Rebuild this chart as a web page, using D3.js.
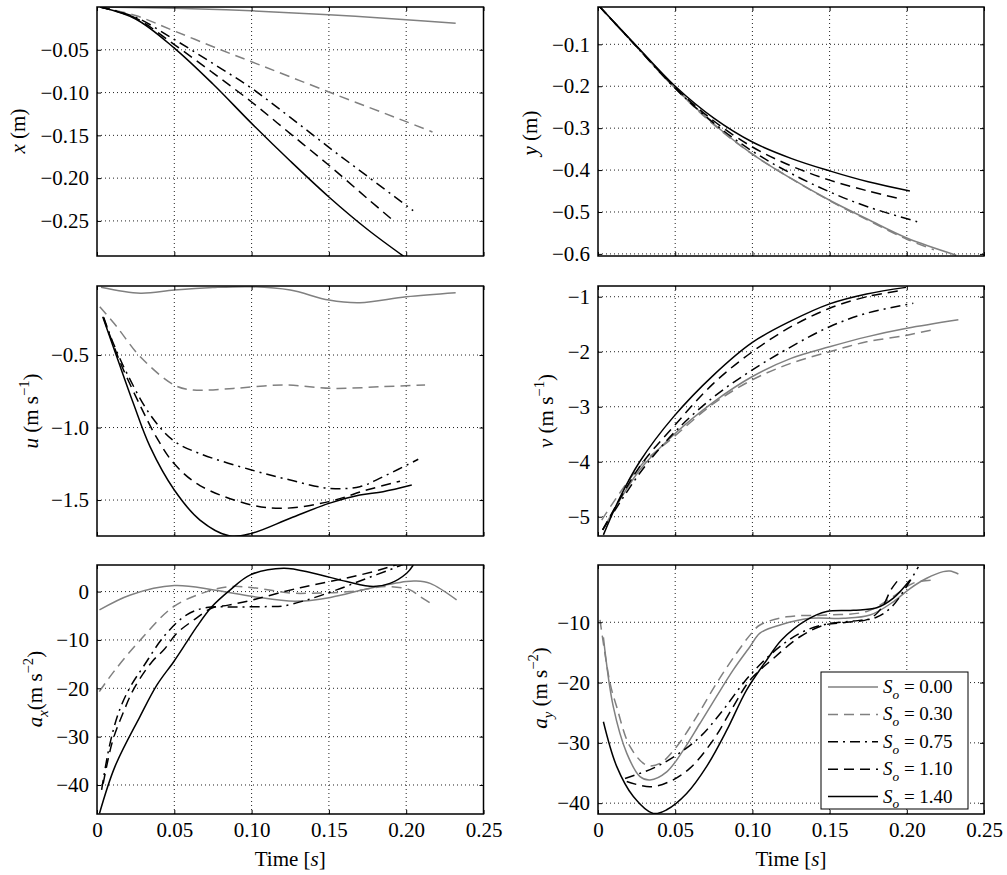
<!DOCTYPE html>
<meta charset="utf-8">
<body style="margin:0;background:#fff">
<svg width="1007" height="875"></svg>
<script src="https://d3js.org/d3.v7.min.js"></script>
<script>

var timeTicks = [0, 0.05, 0.10, 0.15, 0.20, 0.25];
var legendLabels = ['0.00', '0.30', '0.75', '1.10', '1.40'];

// one array per S_o (legend order), points are [time, value]
var xData = [
	[[0.002,0],[0.05,-0.0015],[0.1,-0.0045],[0.15,-0.009],[0.2,-0.015],[0.232,-0.019]],
	[[0.002,0],[0.025,-0.010],[0.05,-0.028],[0.08,-0.05],[0.1,-0.064],[0.151,-0.1],[0.2,-0.134],[0.217,-0.146]],
	[[0.002,0],[0.025,-0.012],[0.05,-0.038],[0.075,-0.066],[0.1,-0.095],[0.125,-0.129],[0.15,-0.164],[0.175,-0.198],[0.2045,-0.238]],
	[[0.002,0],[0.025,-0.013],[0.05,-0.044],[0.075,-0.077],[0.1,-0.111],[0.125,-0.148],[0.15,-0.185],[0.175,-0.224],[0.1906,-0.248]],
	[[0.002,0],[0.025,-0.014],[0.05,-0.048],[0.075,-0.09],[0.1,-0.136],[0.125,-0.18],[0.15,-0.222],[0.175,-0.26],[0.202,-0.296]]
];
var yData = [
	[[0.001,-0.01],[0.025,-0.106],[0.05,-0.205],[0.075,-0.29],[0.1,-0.362],[0.125,-0.42],[0.15,-0.472],[0.175,-0.518],[0.2,-0.562],[0.232,-0.603]],
	[[0.001,-0.01],[0.025,-0.106],[0.05,-0.205],[0.075,-0.292],[0.1,-0.362],[0.125,-0.42],[0.15,-0.473],[0.175,-0.52],[0.2,-0.565],[0.2175,-0.59]],
	[[0.001,-0.01],[0.025,-0.106],[0.05,-0.205],[0.075,-0.288],[0.1,-0.355],[0.125,-0.408],[0.15,-0.452],[0.175,-0.488],[0.2075,-0.524]],
	[[0.001,-0.01],[0.025,-0.105],[0.05,-0.203],[0.075,-0.283],[0.1,-0.345],[0.125,-0.39],[0.15,-0.424],[0.175,-0.45],[0.195,-0.468]],
	[[0.001,-0.01],[0.025,-0.104],[0.05,-0.2],[0.075,-0.276],[0.1,-0.333],[0.125,-0.372],[0.15,-0.402],[0.175,-0.428],[0.202,-0.45]]
];
var uData = [
	[[0.0026,-0.033],[0.028,-0.074],[0.05,-0.052],[0.075,-0.035],[0.1,-0.029],[0.125,-0.052],[0.15,-0.121],[0.17,-0.139],[0.2,-0.098],[0.232,-0.07]],
	[[0.0018,-0.167],[0.0128,-0.305],[0.028,-0.512],[0.05,-0.707],[0.0623,-0.741],[0.088,-0.73],[0.121,-0.707],[0.153,-0.73],[0.185,-0.718],[0.2122,-0.707]],
	[[0.0043,-0.24],[0.0106,-0.42],[0.02,-0.64],[0.0343,-0.91],[0.0494,-1.09],[0.0666,-1.18],[0.1,-1.293],[0.125,-1.362],[0.15,-1.419],[0.17,-1.408],[0.185,-1.339],[0.2078,-1.219]],
	[[0.0043,-0.247],[0.015,-0.55],[0.028,-0.85],[0.0386,-1.07],[0.05,-1.25],[0.0666,-1.40],[0.1,-1.534],[0.1206,-1.557],[0.15,-1.511],[0.1744,-1.431],[0.196,-1.37]],
	[[0.0037,-0.236],[0.0128,-0.512],[0.0235,-0.833],[0.0343,-1.132],[0.05,-1.431],[0.0666,-1.638],[0.086,-1.748],[0.1,-1.73],[0.125,-1.626],[0.15,-1.523],[0.17,-1.466],[0.185,-1.443],[0.2036,-1.397]]
];
var vData = [
	[[0.003,-5.24],[0.027,-4.15],[0.049,-3.51],[0.075,-2.91],[0.1,-2.45],[0.125,-2.12],[0.15,-1.91],[0.174,-1.73],[0.2,-1.575],[0.2334,-1.42]],
	[[0.0024,-5.06],[0.027,-4.09],[0.049,-3.55],[0.075,-2.94],[0.1,-2.51],[0.125,-2.21],[0.15,-2.0],[0.174,-1.82],[0.2,-1.70],[0.2183,-1.59]],
	[[0.003,-5.24],[0.027,-4.21],[0.049,-3.48],[0.075,-2.82],[0.1,-2.33],[0.125,-1.91],[0.15,-1.545],[0.174,-1.30],[0.2042,-1.12]],
	[[0.003,-5.24],[0.027,-4.09],[0.049,-3.36],[0.075,-2.57],[0.1,-2.0],[0.125,-1.545],[0.15,-1.21],[0.174,-1.0],[0.1956,-0.89]],
	[[0.0035,-5.33],[0.0142,-4.65],[0.027,-4.0],[0.049,-3.18],[0.075,-2.42],[0.1,-1.83],[0.125,-1.44],[0.15,-1.13],[0.174,-0.95],[0.1995,-0.83]]
];
var axData = [
	[[0.0016,-3.8],[0.0216,-0.7],[0.05,1.24],[0.0755,0.35],[0.101,-1.03],[0.128,-2.0],[0.151,-1.2],[0.175,0.6],[0.2,2.1],[0.206,2.2],[0.2155,1.7],[0.2326,-1.72]],
	[[0.0015,-20.7],[0.011,-16.5],[0.028,-10],[0.0496,-3.1],[0.0711,0],[0.0862,1.04],[0.101,0.8],[0.125,-0.3],[0.138,-0.35],[0.1636,0],[0.187,1.04],[0.2025,0.35],[0.209,-1.03],[0.2175,-2.75]],
	[[0.003,-41],[0.008,-32],[0.014,-25],[0.021,-20],[0.03,-15.5],[0.044,-9.0],[0.058,-4.8],[0.071,-3.3],[0.09,-3.2],[0.11,-3.1],[0.12,-3.0],[0.135,-1.8],[0.155,0.35],[0.175,2.8],[0.194,5.1],[0.2045,6.5]],
	[[0.004,-39.7],[0.01,-31],[0.017,-25],[0.024,-20],[0.0356,-14.5],[0.0431,-12.1],[0.0517,-8.6],[0.0625,-5.9],[0.0744,-3.4],[0.085,-2.8],[0.101,-1.7],[0.1227,0.14],[0.14,1.4],[0.1615,2.8],[0.183,4.5],[0.196,5.8]],
	[[0.0016,-45.9],[0.0116,-36.2],[0.0277,-25.9],[0.0388,-19.3],[0.0496,-14.5],[0.0582,-10.35],[0.0647,-7.2],[0.0744,-3.1],[0.0862,0.35],[0.0992,3.46],[0.1207,4.84],[0.14,3.8],[0.1615,2.07],[0.1787,1.04],[0.1895,1.7],[0.2003,3.8],[0.2046,5.5]]
];
var ayData = [
	[[0.0035,-12.5],[0.0099,-24.0],[0.0186,-31.7],[0.0272,-35.6],[0.0337,-36.15],[0.0445,-34.8],[0.0553,-31.2],[0.0661,-26.75],[0.0768,-22.3],[0.0876,-17.9],[0.0984,-14.05],[0.1049,-11.8],[0.1179,-10.45],[0.1373,-9.34],[0.1589,-9.34],[0.1762,-8.8],[0.1913,-6.6],[0.2021,-4.4],[0.2129,-2.7],[0.2236,-1.6],[0.228,-1.5],[0.2334,-2.0]],
	[[0.0013,-9.6],[0.0078,-20.1],[0.0121,-24],[0.0207,-30.6],[0.0315,-33.7],[0.0402,-33.4],[0.051,-30.6],[0.0639,-25.65],[0.0768,-20.1],[0.0898,-15.1],[0.0995,-11.8],[0.1049,-10.45],[0.1222,-9.1],[0.1481,-8.8],[0.174,-8.2],[0.1913,-5.7],[0.2042,-3.5],[0.2172,-3.0]],
	[[0.0175,-35.9],[0.0358,-34.2],[0.051,-32],[0.0661,-29],[0.0812,-24.5],[0.0941,-20.1],[0.105,-17],[0.12,-13.6],[0.135,-11.3],[0.15,-10.2],[0.165,-9.8],[0.18,-9.2],[0.19,-7.5],[0.2,-4],[0.2075,-0.8]],
	[[0.0186,-36.4],[0.0337,-37.3],[0.0466,-36.4],[0.0596,-34.2],[0.0747,-29.5],[0.0876,-24],[0.0984,-19.6],[0.1136,-16],[0.1308,-12.4],[0.146,-10.5],[0.161,-10],[0.176,-9.4],[0.184,-7.5],[0.19,-4.5],[0.196,-2.5]],
	[[0.0035,-26.5],[0.0121,-33.9],[0.0229,-38.9],[0.0358,-41.7],[0.0445,-41.1],[0.0574,-38.4],[0.0704,-33.9],[0.0834,-27.9],[0.0963,-21.2],[0.1093,-16.25],[0.119,-12.9],[0.1352,-9.6],[0.1481,-8.2],[0.1654,-8.0],[0.1805,-7.6],[0.1913,-6.0],[0.2021,-3.0]]
];

var xTicks = [-0.05, -0.10, -0.15, -0.20, -0.25];
var yTicks = [-0.1, -0.2, -0.3, -0.4, -0.5, -0.6];
var uTicks = [-0.5, -1.0, -1.5];
var vTicks = [-1, -2, -3, -4, -5];
var axTicks = [0, -10, -20, -30, -40];
var ayTicks = [-10, -20, -30, -40];

var FONT = "'Liberation Serif', 'DejaVu Serif', serif";
var FS = 21;

var styles = [
	{color: '#808080', dash: null},
	{color: '#808080', dash: '10,6'},
	{color: '#000', dash: '10,5,2,5'},
	{color: '#000', dash: '10,6'},
	{color: '#000', dash: null}
];

var panels = [
	{data: xData, ticks: xTicks, fmt: '.2f', domain: [-0.291, 0], col: 0, row: 0,
	 label: [{t: 'x', it: 1}, {t: ' (m)'}], lx: 25, ly: 131},
	{data: yData, ticks: yTicks, fmt: '.1f', domain: [-0.605, -0.011], col: 1, row: 0,
	 label: [{t: 'y', it: 1}, {t: ' (m)'}], lx: 537, ly: 133},
	{data: uData, ticks: uTicks, fmt: '.1f', domain: [-1.748, -0.024], col: 0, row: 1,
	 label: [{t: 'u', it: 1}, {t: ' (m s'}, {t: '−1', sup: 1}, {t: ')'}], lx: 38, ly: 411},
	{data: vData, ticks: vTicks, fmt: 'd', domain: [-5.35, -0.805], col: 1, row: 1,
	 label: [{t: 'v', it: 1}, {t: ' (m s'}, {t: '−1', sup: 1}, {t: ')'}], lx: 553, ly: 411},
	{data: axData, ticks: axTicks, fmt: 'd', domain: [-46, 5.5], col: 0, row: 2,
	 label: [{t: 'a', it: 1}, {t: 'x', it: 1, sub: 1}, {t: '(m s'}, {t: '−2', sup: 1}, {t: ')'}], lx: 42, ly: 689},
	{data: ayData, ticks: ayTicks, fmt: 'd', domain: [-41.8, -0.5], col: 1, row: 2,
	 label: [{t: 'a', it: 1}, {t: 'y', it: 1, sub: 1}, {t: ' (m s'}, {t: '−2', sup: 1}, {t: ')'}], lx: 547, ly: 688}
];

var colX = [[97, 483.5], [598, 984]];
var rowY = [[7, 256], [286, 536], [565, 814]];

var svg = d3.select('svg');

function richText(sel, parts, size) {
	var shift = 0;
	parts.forEach(function(p) {
		var target = p.sup ? -0.42 * size : (p.sub ? 0.3 * size : 0);
		var ts = sel.append('tspan').attr('dy', target - shift).text(p.t);
		if (p.it) ts.style('font-style', 'italic');
		if (p.sup || p.sub) ts.style('font-size', (size * 0.7) + 'px');
		shift = target;
	});
}

panels.forEach(function(p, i) {
	var x0 = colX[p.col][0], x1 = colX[p.col][1];
	var y0 = rowY[p.row][0], y1 = rowY[p.row][1];

	var x = d3.scaleLinear().domain([0, 0.25]).range([x0, x1]);
	var y = d3.scaleLinear().domain(p.domain).range([y1, y0]);

	var g = svg.append('g');

	svg.append('clipPath').attr('id', 'clip' + i)
		.append('rect').attr('x', x0).attr('y', y0)
		.attr('width', x1 - x0).attr('height', y1 - y0);

	// dotted grid
	g.selectAll('.vg').data(timeTicks.slice(1, 5)).enter().append('line')
		.attr('x1', function(d) { return x(d); }).attr('x2', function(d) { return x(d); })
		.attr('y1', y0).attr('y2', y1)
		.attr('stroke', '#222').attr('stroke-width', 1).attr('stroke-dasharray', '1,3');
	g.selectAll('.hg').data(p.ticks).enter().append('line')
		.attr('x1', x0).attr('x2', x1)
		.attr('y1', function(d) { return y(d); }).attr('y2', function(d) { return y(d); })
		.attr('stroke', '#222').attr('stroke-width', 1).attr('stroke-dasharray', '1,3');

	var line = d3.line()
		.x(function(d) { return x(d[0]); })
		.y(function(d) { return y(d[1]); })
		.curve(d3.curveCatmullRom.alpha(0.5));

	var curves = g.append('g').attr('clip-path', 'url(#clip' + i + ')');
	p.data.forEach(function(s, k) {
		curves.append('path')
			.attr('d', line(s))
			.attr('fill', 'none')
			.attr('stroke', styles[k].color)
			.attr('stroke-width', 1.5)
			.attr('stroke-dasharray', styles[k].dash);
	});

	// axes with inward ticks
	var fmt = d3.format(p.fmt);
	g.append('g').attr('transform', 'translate(' + x0 + ',0)')
		.call(d3.axisLeft(y).tickValues(p.ticks).tickFormat(fmt).tickSize(-4).tickPadding(8));
	g.append('g').attr('transform', 'translate(' + x1 + ',0)')
		.call(d3.axisRight(y).tickValues(p.ticks).tickFormat('').tickSize(-4));
	g.append('g').attr('transform', 'translate(0,' + y0 + ')')
		.call(d3.axisTop(x).tickValues(timeTicks).tickFormat('').tickSize(-4));
	g.append('g').attr('transform', 'translate(0,' + y1 + ')')
		.call(d3.axisBottom(x).tickValues(timeTicks)
			.tickFormat(p.row == 2 ? function(d) { return d === 0 ? '0' : d3.format('.2f')(d); } : '')
			.tickSize(-4).tickPadding(8));
	g.selectAll('.domain').remove();
	g.selectAll('.tick line').attr('stroke-width', 1);
	g.selectAll('.tick text').attr('font-size', FS).attr('font-family', FONT).attr('fill', '#000');

	g.append('rect').attr('x', x0).attr('y', y0)
		.attr('width', x1 - x0).attr('height', y1 - y0)
		.attr('fill', 'none').attr('stroke', '#000').attr('stroke-width', 1.5);

	var lab = svg.append('text')
		.attr('transform', 'translate(' + p.lx + ',' + p.ly + ') rotate(-90)')
		.attr('text-anchor', 'middle')
		.attr('font-family', FONT).attr('font-size', FS);
	richText(lab, p.label, FS);

	if (p.row == 2) {
		var tl = svg.append('text')
			.attr('x', (x0 + x1) / 2).attr('y', 866)
			.attr('text-anchor', 'middle')
			.attr('font-family', FONT).attr('font-size', FS);
		richText(tl, [{t: 'Time ['}, {t: 's', it: 1}, {t: ']'}], FS);
	}
});

// legend in the a_y panel
var legend = svg.append('g');
legend.append('rect')
	.attr('x', 821).attr('y', 672).attr('width', 147).attr('height', 137)
	.attr('fill', '#fff').attr('stroke', '#000').attr('stroke-width', 1);

legendLabels.forEach(function(lbl, k) {
	var ry = 687 + k * 27.4;
	legend.append('line')
		.attr('x1', 828).attr('x2', 878).attr('y1', ry).attr('y2', ry)
		.attr('stroke', styles[k].color).attr('stroke-width', 1.5)
		.attr('stroke-dasharray', styles[k].dash);
	var t = legend.append('text')
		.attr('x', 883).attr('y', ry + 6)
		.attr('font-family', FONT).attr('font-size', 19);
	richText(t, [{t: 'S', it: 1}, {t: 'o', it: 1, sub: 1}, {t: ' = ' + lbl}], 19);
});

</script>
</body>
